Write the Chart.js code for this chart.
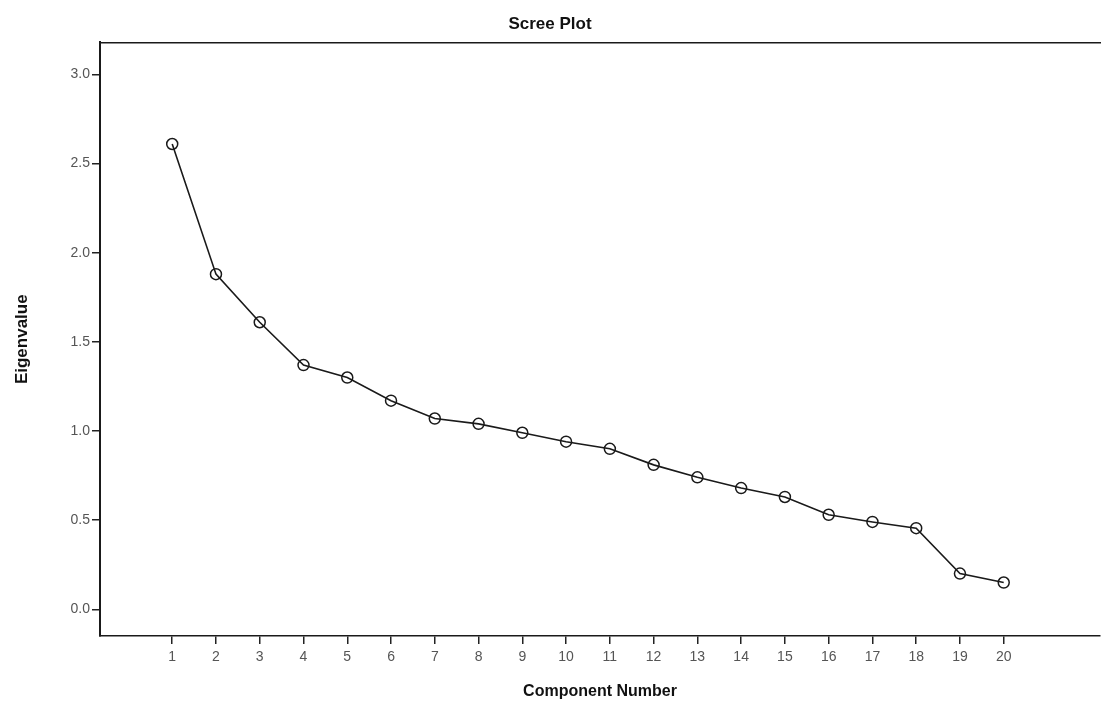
<!DOCTYPE html>
<html>
<head>
<meta charset="utf-8">
<script src="https://cdn.jsdelivr.net/npm/chart.js@4.4.1/dist/chart.umd.min.js"></script>
<style>
  html, body { margin: 0; padding: 0; background: #ffffff; }
  #wrap { width: 1111px; height: 705px; }
</style>
</head>
<body>
<div id="wrap"><canvas id="c" width="1111" height="705"></canvas></div>
<script>
const components = [1,2,3,4,5,6,7,8,9,10,11,12,13,14,15,16,17,18,19,20];
const eigenvalues = [2.61,1.88,1.61,1.37,1.30,1.17,1.07,1.04,0.99,0.94,0.90,0.81,0.74,0.68,0.63,0.53,0.49,0.455,0.20,0.15];
const yTicks = [0.0,0.5,1.0,1.5,2.0,2.5,3.0];

const points = components.map((c, i) => ({ x: c, y: eigenvalues[i] }));

new Chart(document.getElementById('c'), {
  type: 'line',
  data: {
    datasets: [{
      data: points,
      borderColor: '#1a1a1a',
      borderWidth: 1.6,
      pointRadius: 5.5,
      pointBorderWidth: 1.5,
      pointBorderColor: '#1a1a1a',
      pointBackgroundColor: 'rgba(255,255,255,0)',
      tension: 0,
      fill: false
    }]
  },
  options: {
    responsive: false,
    animation: false,
    layout: { padding: { left: 0, right: 11, top: 0, bottom: 0 } },
    plugins: {
      legend: { display: false },
      tooltip: { enabled: false },
      title: {
        display: true,
        text: 'Scree Plot',
        color: '#111',
        font: { family: 'Liberation Sans, Arial, sans-serif', size: 17, weight: 'bold' },
        padding: { top: 14, bottom: 8 }
      }
    },
    scales: {
      x: {
        type: 'linear',
        min: -0.65,
        max: 22.2,
        afterBuildTicks: (scale) => { scale.ticks = components.map(v => ({ value: v })); },
        afterFit: (scale) => { scale.height = 69; },
        grid: { display: true, drawOnChartArea: false, drawTicks: true, tickLength: 8, color: '#222', lineWidth: 1.5 },
        border: { display: true, color: '#1a1a1a', width: 1.6 },
        ticks: {
          autoSkip: false,
          maxRotation: 0,
          color: '#555',
          padding: 5,
          font: { family: 'Liberation Sans, Arial, sans-serif', size: 14 },
          callback: (v) => String(v)
        },
        title: {
          display: true,
          text: 'Component Number',
          color: '#111',
          padding: { top: 6, bottom: 4 },
          font: { family: 'Liberation Sans, Arial, sans-serif', size: 16, weight: 'bold' }
        }
      },
      x2: {
        type: 'linear',
        position: 'top',
        min: -0.65,
        max: 22.2,
        grid: { display: false, drawTicks: false },
        border: { display: true, color: '#1a1a1a', width: 1.6 },
        ticks: { display: false }
      },
      y: {
        type: 'linear',
        min: -0.15,
        max: 3.18,
        afterBuildTicks: (scale) => { scale.ticks = yTicks.map(v => ({ value: v })); },
        afterFit: (scale) => { scale.width = 100; },
        grid: { display: true, drawOnChartArea: false, drawTicks: true, tickLength: 8, color: '#222', lineWidth: 1.5 },
        border: { display: true, color: '#1a1a1a', width: 2 },
        ticks: {
          color: '#555',
          padding: 2,
          font: { family: 'Liberation Sans, Arial, sans-serif', size: 14 },
          callback: (v) => Number(v).toFixed(1)
        },
        title: {
          display: true,
          text: 'Eigenvalue',
          color: '#111',
          padding: { top: 12, bottom: 6 },
          font: { family: 'Liberation Sans, Arial, sans-serif', size: 17, weight: 'bold' }
        }
      }
    }
  }
});
</script>
</body>
</html>
